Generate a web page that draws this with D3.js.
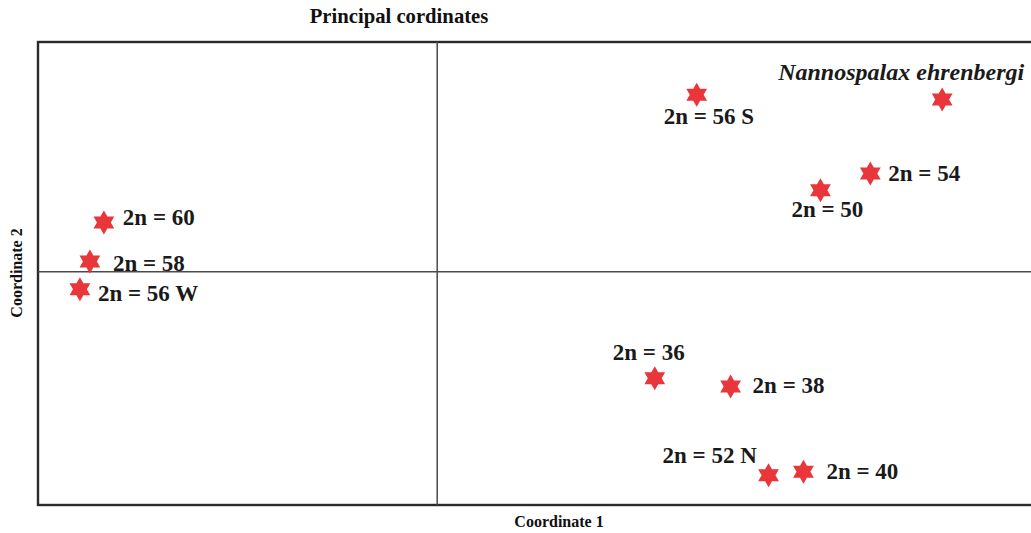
<!DOCTYPE html>
<html>
<head>
<meta charset="utf-8">
<script src="https://cdn.jsdelivr.net/npm/d3@7"></script>
<style>
  html, body { margin: 0; padding: 0; background: #ffffff; }
  svg { display: block; }
</style>
</head>
<body>
<script>
// ---- data ----
const labels = ["2n = 60", "2n = 58", "2n = 56 W", "2n = 56 S", "Nannospalax ehrenbergi",
                "2n = 54", "2n = 50", "2n = 36", "2n = 38", "2n = 52 N", "2n = 40"];
const coord1 = [-0.334, -0.348, -0.358, 0.260, 0.506, 0.434, 0.384, 0.218, 0.294, 0.332, 0.367];
const coord2 = [0.053, 0.011, -0.019, 0.191, 0.186, 0.106, 0.088, -0.115, -0.124, -0.220, -0.216];
const xDomain = [-0.4, 0.6];
const yDomain = [-0.252, 0.248];
const titleText = "Principal cordinates";
const xTitle = "Coordinate 1";
const yTitle = "Coordinate 2";

// ---- layout (label placement relative to each star) ----
const labelOffsets = [
  [19, 2], [23, 10], [18, 12], [-33, 29], [-164, -19],
  [18, 8], [-29, 27], [-42, -18], [22, 7], [-106, -12], [23, 7]
];

const W = 1031, H = 533;
const svg = d3.select("body").append("svg").attr("width", W).attr("height", H);

const x = d3.scaleLinear().domain(xDomain).range([38, 1036]);
const y = d3.scaleLinear().domain(yDomain).range([505, 42]);

// frame
svg.append("rect")
  .attr("x", x(xDomain[0])).attr("y", y(yDomain[1]))
  .attr("width", x(xDomain[1]) - x(xDomain[0]))
  .attr("height", y(yDomain[0]) - y(yDomain[1]))
  .attr("fill", "none").attr("stroke", "#2b2b2b").attr("stroke-width", 2.4);

// crosshair at zero
svg.append("line")
  .attr("x1", x(0)).attr("x2", x(0))
  .attr("y1", y(yDomain[1])).attr("y2", y(yDomain[0]))
  .attr("stroke", "#4a4a4a").attr("stroke-width", 1.5);
svg.append("line")
  .attr("x1", x(xDomain[0])).attr("x2", x(xDomain[1]))
  .attr("y1", y(0)).attr("y2", y(0))
  .attr("stroke", "#4a4a4a").attr("stroke-width", 1.5);

// six-pointed star symbol
const hexagram = {
  draw(ctx, size) {
    const R = Math.sqrt(size) / 2;
    const r = R / Math.sqrt(3);
    for (let i = 0; i < 12; i++) {
      const rad = i % 2 === 0 ? R : r;
      const a = -Math.PI / 2 + i * Math.PI / 6;
      const px = rad * Math.cos(a), py = rad * Math.sin(a);
      if (i === 0) ctx.moveTo(px, py); else ctx.lineTo(px, py);
    }
    ctx.closePath();
  }
};
const starPath = d3.symbol().type(hexagram).size(24 * 24)();

const data = labels.map((l, i) => ({ label: l, c1: coord1[i], c2: coord2[i], off: labelOffsets[i] }));

svg.append("g").selectAll("path").data(data).join("path")
  .attr("d", starPath)
  .attr("transform", d => `translate(${x(d.c1)},${y(d.c2)})`)
  .attr("fill", "#e8363a");

svg.append("g").selectAll("text").data(data).join("text")
  .attr("x", d => x(d.c1) + d.off[0])
  .attr("y", d => y(d.c2) + d.off[1])
  .attr("font-family", "'Liberation Serif', 'Times New Roman', serif")
  .attr("font-weight", "bold")
  .attr("font-style", d => d.label.startsWith("2n") ? "normal" : "italic")
  .attr("font-size", d => d.label.startsWith("2n") ? 23 : 24)
  .attr("fill", "#1a1a1a")
  .text(d => d.label);

// titles
svg.append("text")
  .attr("x", 399).attr("y", 23)
  .attr("text-anchor", "middle")
  .attr("font-family", "'Liberation Serif', 'Times New Roman', serif")
  .attr("font-weight", "bold").attr("font-size", 20.7)
  .attr("fill", "#111")
  .text(titleText);

svg.append("text")
  .attr("x", 559).attr("y", 527)
  .attr("text-anchor", "middle")
  .attr("font-family", "'Liberation Serif', 'Times New Roman', serif")
  .attr("font-weight", "bold").attr("font-size", 16)
  .attr("fill", "#111")
  .text(xTitle);

svg.append("text")
  .attr("transform", "translate(22,273) rotate(-90)")
  .attr("text-anchor", "middle")
  .attr("font-family", "'Liberation Serif', 'Times New Roman', serif")
  .attr("font-weight", "bold").attr("font-size", 16)
  .attr("fill", "#111")
  .text(yTitle);
</script>
</body>
</html>
